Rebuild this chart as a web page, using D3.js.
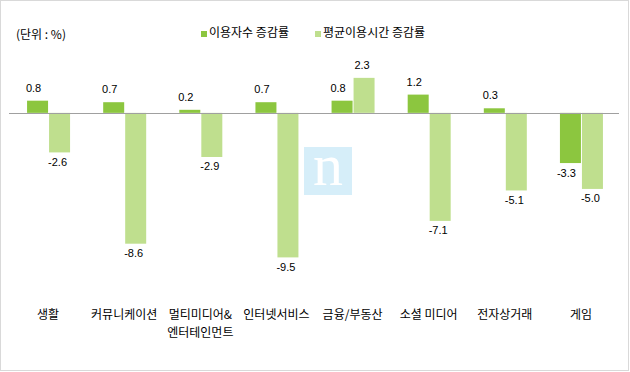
<!DOCTYPE html>
<html>
<head>
<meta charset="utf-8">
<script src="https://cdn.jsdelivr.net/npm/d3@7"></script>
<style>
  html, body { margin: 0; padding: 0; background: #fff; }
  svg { display: block; }
  text { font-family: "Noto Sans CJK KR", "Liberation Sans", sans-serif; fill: #000; }
  .num { font-family: "Liberation Sans", Arial, sans-serif; font-size: 11px; }
</style>
</head>
<body>
<svg id="chart" width="630" height="372"></svg>
<script>
// ---- data ----
const categories = ["생활", "커뮤니케이션", "멀티미디어&\n엔터테인먼트", "인터넷서비스", "금융/부동산", "소셜 미디어", "전자상거래", "게임"];
const seriesNames = ["이용자수 증감률", "평균이용시간 증감률"];
const userGrowth = [0.8, 0.7, 0.2, 0.7, 0.8, 1.2, 0.3, -3.3];
const timeGrowth = [-2.6, -8.6, -2.9, -9.5, 2.3, -7.1, -5.1, -5.0];
const unitLabel = "(단위 : %)";

// ---- drawing ----
const W = 630, H = 372;
const colors = ["#8cc63f", "#bfdf8e"];
const svg = d3.select("#chart");

svg.append("rect").attr("x", 0.5).attr("y", 0.5).attr("width", W - 2).attr("height", H - 2)
  .attr("fill", "#fff").attr("stroke", "#d9d9d9");

const x = d3.scaleBand().domain(d3.range(categories.length)).range([10, 619]).padding(0);
const sub = d3.scaleBand().domain([0, 1]).range([-21, 22]).paddingInner(1 / 22);
const y = d3.scaleLinear().domain([-10, 4]).range([265, 52]);

// watermark
const wm = svg.append("g");
wm.append("rect").attr("x", 304).attr("y", 147).attr("width", 48).attr("height", 48).attr("fill", "#d6eef9");
wm.append("text").attr("x", 328).attr("y", 185).attr("text-anchor", "middle")
  .style("font-family", "'Liberation Serif', 'DejaVu Serif', serif").style("font-size", "60px")
  .style("fill", "#fff").text("n");

const series = [userGrowth, timeGrowth];
series.forEach((vals, s) => {
  const g = svg.append("g");
  g.selectAll("rect").data(vals).join("rect")
    .attr("x", (d, i) => x(i) + x.bandwidth() / 2 + sub(s))
    .attr("width", sub.bandwidth())
    .attr("y", d => y(Math.max(0, d)))
    .attr("height", d => Math.abs(y(d) - y(0)))
    .attr("fill", colors[s]);
  g.selectAll("text").data(vals).join("text")
    .attr("class", "num")
    .attr("text-anchor", "middle")
    .attr("x", (d, i) => x(i) + x.bandwidth() / 2 + sub(s) + sub.bandwidth() / 2 + (s === 0 ? -4 : -2))
    .attr("y", d => d >= 0 ? y(d) - 9 : y(d) + 13.5)
    .text(d => d.toFixed(1));
});

// zero axis line
const axis = d3.axisBottom(x).tickSize(0).tickFormat("");
svg.append("g").attr("transform", `translate(0,${Math.round(y(0)) + 0.5})`)
  .call(axis)
  .call(g => g.select(".domain").attr("stroke", "#a0a0a0").attr("d", "M9,0H619"));

// category labels
const catG = svg.append("g");
categories.forEach((c, i) => {
  const t = catG.append("text").attr("text-anchor", "middle").style("font-size", "12px")
    .attr("x", x(i) + x.bandwidth() / 2).attr("y", 319);
  c.split("\n").forEach((line, k) => {
    t.append("tspan").attr("x", x(i) + x.bandwidth() / 2).attr("dy", k === 0 ? 0 : 18).text(line);
  });
});

// unit label
svg.append("text").attr("x", 16).attr("y", 39).style("font-size", "12px").text(unitLabel);

// legend
const legendX = [201, 315];
seriesNames.forEach((n, s) => {
  svg.append("rect").attr("x", legendX[s]).attr("y", 31).attr("width", 6).attr("height", 6).attr("fill", colors[s]);
  svg.append("text").attr("x", legendX[s] + 8).attr("y", 37).style("font-size", "12px").text(n);
});
</script>
</body>
</html>
